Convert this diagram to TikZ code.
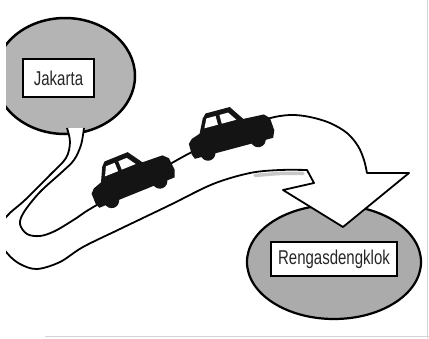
\documentclass[tikz,border=0pt]{standalone}
\usepackage{fontspec}
\setmainfont{Liberation Sans}
\usepackage{graphicx}
\usetikzlibrary{shapes.geometric}

\definecolor{bubblegray}{HTML}{B4B4B4}
\definecolor{ovalgray}{HTML}{ABABAB}
\definecolor{framegray}{HTML}{D4D4D4}

\tikzset{
  bubble/.style={ellipse, draw=black, line width=2.5pt, fill=bubblegray, inner sep=0pt},
  placebox/.style={draw=black, line width=1.8pt, fill=white, inner sep=0pt,
    font=\fontsize{20}{24}\selectfont, text=black!85},
  roadline/.style={draw=black, line width=1.8pt, fill=white, line join=round},
  carbody/.style={fill=black!92},
  sedan/.pic={
    % body silhouette (y grows downward, so negative y is up)
    \fill[carbody] (2,-3) -- (0,-8) -- (0,-19) -- (4,-23) -- (13,-26) -- (20,-40)
      -- (24,-44) -- (49,-44) -- (59,-29) -- (80,-28) -- (85,-23) -- (86,-10)
      -- (83,-3) -- cycle;
    \fill[carbody] (16,-5) circle (7.5) (68,-5) circle (7.5);
    % windows
    \fill[white] (19,-30) -- (23.5,-39) -- (33,-39) -- (33,-30) -- cycle;
    \fill[white] (37,-30) -- (37,-39) -- (46,-39) -- (52,-30) -- cycle;
  }
}

\begin{document}
\begin{tikzpicture}[x=1pt, y=-1pt]
  \fill[white] (0,0) rectangle (429,338);
  \useasboundingbox (0,0) rectangle (429,338);

  \begin{scope}
    \clip (6,0) rectangle (429,338);

    % destination oval and origin speech bubble
    \node[bubble, fill=ovalgray, line width=2.2pt, minimum width=174, minimum height=114]
      (rengasOval) at (334,262) {};
    \node[bubble, minimum width=140, minimum height=116] (jakartaBubble) at (65,76) {};

    % road ribbon: bubble tail, loop, and the arrow bending into the oval
    \path[roadline]
      plot[smooth, tension=0.55] coordinates {(67,128) (70,142) (66,158) (50,175)
        (25,200) (7,216) (-4,234) (7,253) (20,264) (37,269) (60,262) (83,247)
        (120,229) (170,205) (213,184) (250,173) (280,170) (307,170)}
      -- (314,183) -- (283,190) -- (343,227) -- (409,173) -- (367,173)
      -- plot[smooth, tension=0.55] coordinates {(367,173) (364,160) (358,146)
        (347,133) (330,123) (310,117) (290,115) (267,119) (230,133) (190,153)
        (170,164) (130,186) (90,209) (75,219) (55,231) (40,236) (27,234)
        (20,224) (24,212) (40,192) (62,172) (74,160) (81,145) (84,128)};

    % soft shade along the lower edge of the arrow shaft
    \draw[black!22, line width=3.5pt, line cap=round]
      plot[smooth] coordinates {(255,175.5) (280,173.5) (303,173.5)};

    % name plates
    \node[placebox, minimum width=71, minimum height=38] (jakartaLabel) at (58.5,78)
      {\scalebox{0.75}[1]{Jakarta}};
    \node[placebox, minimum width=126, minimum height=34] (rengasLabel) at (334,259)
      {\scalebox{0.75}[1]{Rengasdengklok}};

    % the two cars on the road
    \pic[rotate=22] (carRear) at (98.7,211.3) {sedan};
    \pic[rotate=15] (carFront) at (193.8,162.2) {sedan};
  \end{scope}

  % faint frame on the right and bottom
  \draw[framegray, line width=1pt] (427,0) -- (427,338);
  \draw[framegray, line width=1pt] (45,336) -- (429,336);
\end{tikzpicture}
\end{document}
